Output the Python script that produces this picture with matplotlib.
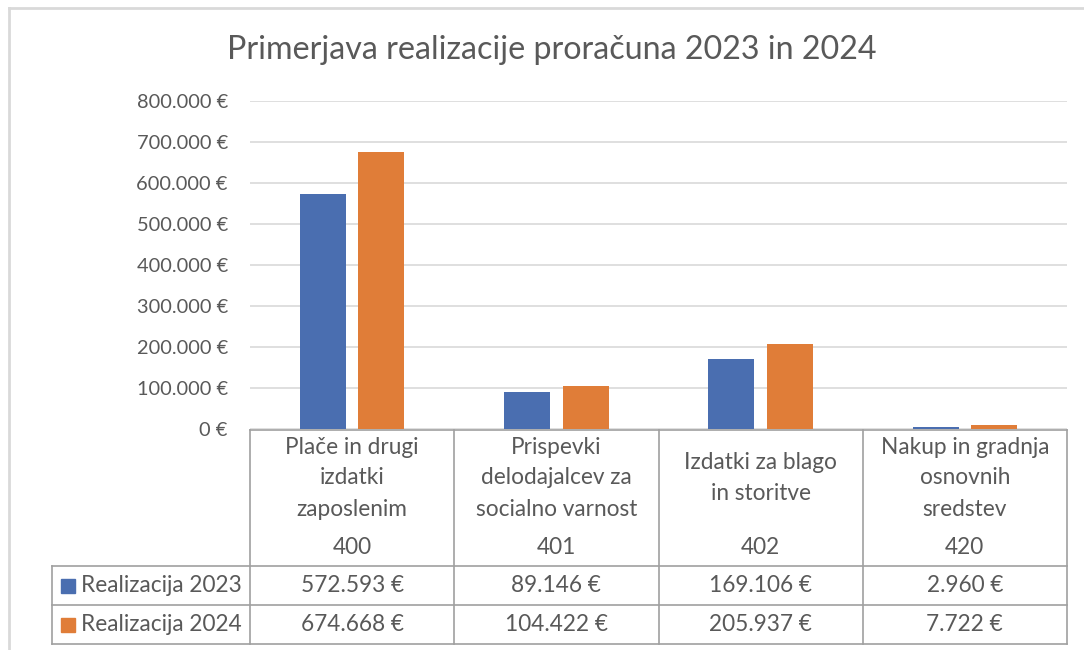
import matplotlib.pyplot as plt
from matplotlib.ticker import FuncFormatter

# data
categories = ['Plače in drugi\nizdatki\nzaposlenim',
              'Prispevki\ndelodajalcev za\nsocialno varnost',
              'Izdatki za blago\nin storitve',
              'Nakup in gradnja\nosnovnih\nsredstev']
codes = ['400', '401', '402', '420']
series_names = ['Realizacija 2023', 'Realizacija 2024']
real_2023 = [572593, 89146, 169106, 2960]
real_2024 = [674668, 104422, 205937, 7722]

colors = ['#4A6EB0', '#E07D38']
txt = '#595959'
W, H = 1084, 650
fs = 16.3

plt.rcParams['font.family'] = ['Lato', 'DejaVu Sans']


def eur(v, pos=None):
    return f'{int(round(v)):,}'.replace(',', '.') + ' €'


fig = plt.figure(figsize=(W / 100, H / 100), dpi=100)

# overlay in pixel coordinates for frame, title and data table
tab = fig.add_axes([0, 0, 1, 1])
tab.set_xlim(0, W)
tab.set_ylim(H, 0)
tab.axis('off')

# plot area
x0, x1 = 250, 1067
y_top, y_zero = 100.7, 428.5
ax = fig.add_axes([x0 / W, (H - y_zero) / H, (x1 - x0) / W, (y_zero - y_top) / H])
n = len(categories)
xs = [i + 0.5 for i in range(n)]
bw = 0.225
off = 0.143
ax.bar([x - off for x in xs], real_2023, bw, color=colors[0], zorder=3)
ax.bar([x + off for x in xs], real_2024, bw, color=colors[1], zorder=3)
ax.set_xlim(0, n)
ax.set_ylim(0, 800000)
ax.set_yticks(range(0, 800001, 100000))
ax.yaxis.set_major_formatter(FuncFormatter(eur))
ax.tick_params(axis='y', length=0, pad=16, labelsize=14.4, labelcolor=txt)
ax.set_xticks([])
ax.grid(axis='y', color='#D9D9D9', linewidth=1.2, zorder=0)
for s in ax.spines.values():
    s.set_visible(False)

# outer chart frame
tab.plot([8.5, W], [7.5, 7.5], color='#D9D9D9', lw=2)
tab.plot([8.5, 8.5], [7.5, H], color='#D9D9D9', lw=2)

tab.text(552, 50, 'Primerjava realizacije proračuna 2023 in 2024',
         ha='center', va='center', fontsize=23.2, color=txt)

# data table
lc = '#A0A0A0'
cw = (x1 - x0) / n
t_top, t_head, t_mid, t_bot = 429.5, 566, 605, 644
leg_x = 52
tab.plot([x0, x1], [t_top, t_top], color=lc, lw=1.2)
for y in (t_head, t_mid, t_bot):
    tab.plot([leg_x, x1], [y, y], color=lc, lw=1.2)
tab.plot([leg_x, leg_x], [t_head, t_bot], color=lc, lw=1.2)
for i in range(n + 1):
    xv = x0 + i * cw
    tab.plot([xv, xv], [t_top, t_bot], color=lc, lw=1.2)

for i, (cat, code) in enumerate(zip(categories, codes)):
    cx = x0 + (i + 0.5) * cw
    lines = cat.split('\n')
    for j, line in enumerate(lines):
        yy = 478 + (j - (len(lines) - 1) / 2) * 31
        tab.text(cx, yy, line, ha='center', va='center', fontsize=fs, color=txt)
    tab.text(cx, 547, code, ha='center', va='center', fontsize=fs, color=txt)

rows = [real_2023, real_2024]
for r, (name, vals, col) in enumerate(zip(series_names, rows, colors)):
    yc = (t_head + t_mid) / 2 if r == 0 else (t_mid + t_bot) / 2
    tab.add_patch(plt.Rectangle((61, yc - 7), 14, 14, color=col))
    tab.text(81, yc, name, ha='left', va='center', fontsize=fs, color=txt)
    for i, v in enumerate(vals):
        tab.text(x0 + (i + 0.5) * cw, yc, eur(v), ha='center', va='center',
                 fontsize=fs, color=txt)

fig.savefig('out.png', dpi=100)
